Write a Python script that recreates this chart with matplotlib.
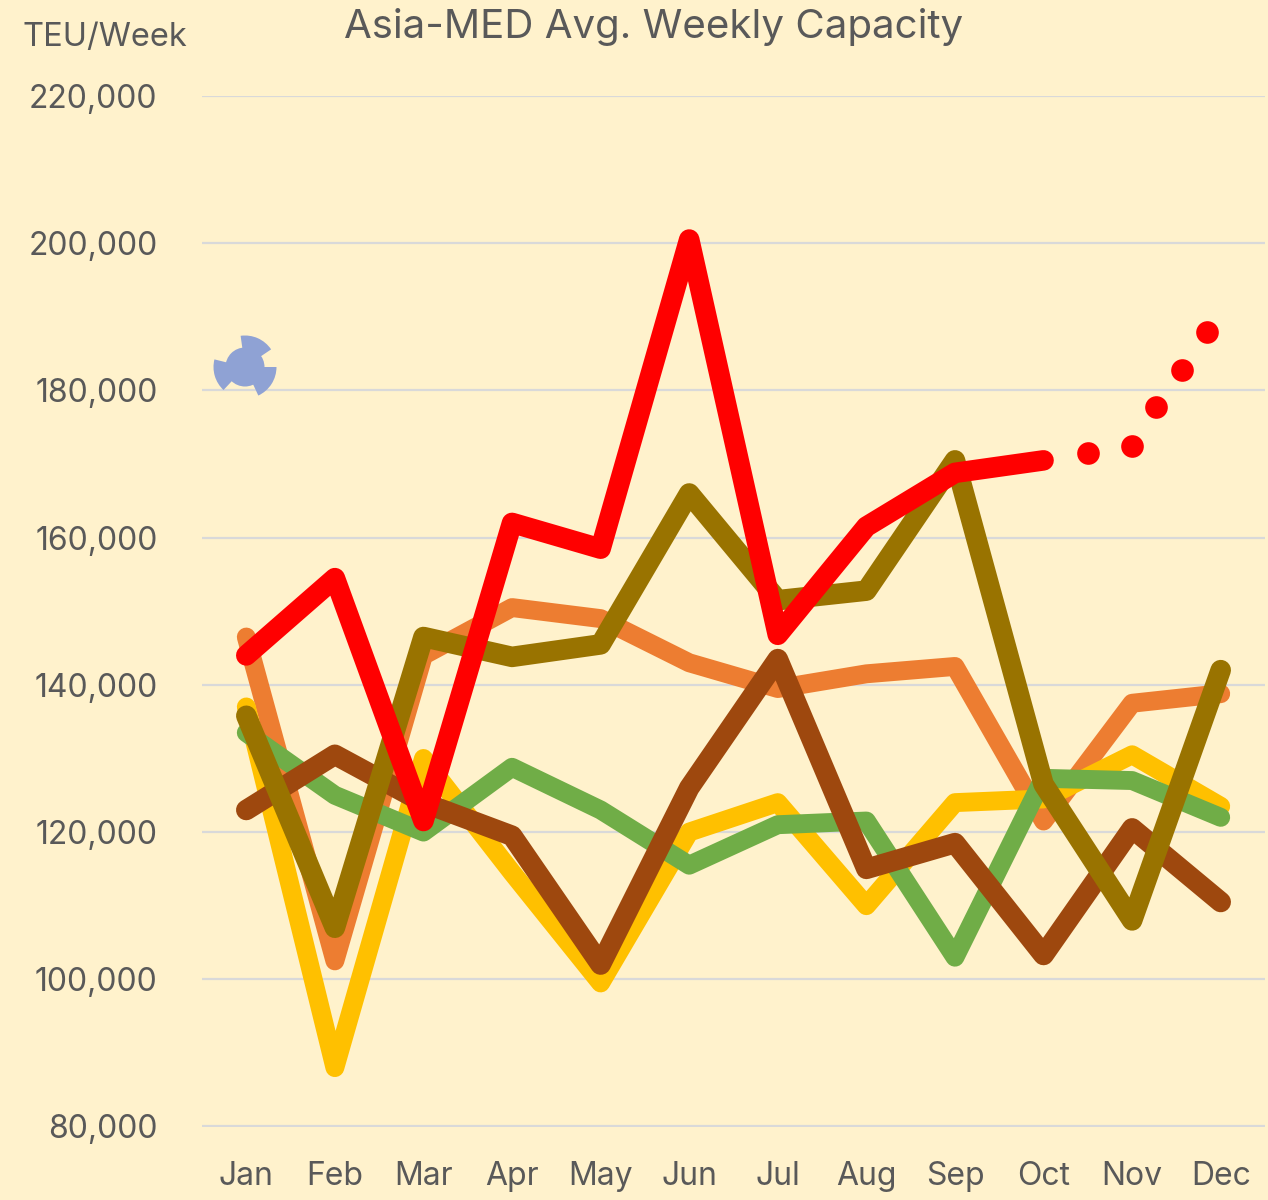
import matplotlib
matplotlib.use('Agg')
import matplotlib.pyplot as plt
from matplotlib.patches import Wedge, Circle
import numpy as np

months = ['Jan', 'Feb', 'Mar', 'Apr', 'May', 'Jun', 'Jul', 'Aug', 'Sep', 'Oct', 'Nov', 'Dec']
yticks = [80000, 100000, 120000, 140000, 160000, 180000, 200000, 220000]

orange = [146500, 102500, 144000, 150500, 149000, 143000, 139500, 141500, 142500, 121500, 137500, 138800]
yellow = [137000, 88000, 130000, 114500, 99500, 120000, 124000, 110000, 124000, 124500, 130500, 123500]
green = [133500, 125000, 120000, 128800, 123000, 115500, 121000, 121500, 103000, 127300, 127000, 122000]
brown = [123000, 130500, 124000, 119500, 102000, 126000, 143500, 115000, 118500, 103300, 120500, 110500]
olive = [135800, 107000, 146500, 143800, 145500, 166000, 151500, 152800, 170500, 126500, 108000, 142000]
red = [144000, 154500, 121500, 162000, 158500, 200500, 146800, 161500, 168800, 170500]
# Oct-Dec forecast dots, x is in month position
red_dots_x = [10.5, 11, 11.27, 11.56, 11.84]
red_dots = [171500, 172400, 177700, 182800, 188000]
# stray blue shape left of the lines, angles in degrees
blob_angles = [(34, 98), (166, 227), (295, 360)]

plt.rcParams['font.family'] = ['Inter', 'DejaVu Sans']
text_col = '#595959'
bg = '#FFF2CC'

fig = plt.figure(figsize=(12.68, 12.0), dpi=100, facecolor=bg)
ax = fig.add_axes([202/1268, 1-1126.5/1200, (1265-202)/1268, (1126.5-96)/1200], facecolor=bg)

x = np.arange(1, 13)
thin = 13.6
thick = 14.8
ax.plot(x, orange, color='#ED7D31', lw=thin, solid_capstyle='round', solid_joinstyle='round')
ax.plot(x, yellow, color='#FFC000', lw=thin, solid_capstyle='round', solid_joinstyle='round')
ax.plot(x, green, color='#70AD47', lw=thin, solid_capstyle='round', solid_joinstyle='round')
ax.plot(x, brown, color='#9E480E', lw=thick, solid_capstyle='round', solid_joinstyle='round')
ax.plot(x, olive, color='#997300', lw=thick, solid_capstyle='round', solid_joinstyle='round')
ax.plot(x[:10], red, color='#FF0000', lw=thick, solid_capstyle='round', solid_joinstyle='round')
ax.plot(red_dots_x, red_dots, 'o', color='#FF0000', ms=16.3, mew=0)

ax.set_xlim(0.5, 12.5)
ax.set_ylim(80000, 220000)
ax.set_yticks(yticks)
ax.set_yticklabels([f'{v:,}' for v in yticks], fontsize=23, color=text_col)
ax.set_xticks(x)
ax.set_xticklabels(months, fontsize=23, color=text_col)
ax.tick_params(length=0, axis='y', pad=32)
ax.tick_params(length=0, axis='x', pad=25)
ax.grid(axis='y', color='#D9D9D9', lw=1.6)
ax.set_axisbelow(True)
for s in ax.spines.values():
    s.set_visible(False)

# blue shape, 1 unit = 1 px
blob = fig.add_axes([205/1268, 1-407/1200, 80/1268, 80/1200])
blob.set_xlim(-40, 40)
blob.set_ylim(-40, 40)
blob.axis('off')
blob.add_patch(Circle((0, 0), 19.5, color='#8FA2D4', lw=0))
for a, b in blob_angles:
    blob.add_patch(Wedge((0, 0), 31.5, a, b, color='#8FA2D4', lw=0))

fig.text(654/1268, 1-27/1200, 'Asia-MED Avg. Weekly Capacity', fontsize=29, color=text_col, ha='center', va='center')
fig.text(105/1268, 1-37/1200, 'TEU/Week', fontsize=23.5, color=text_col, ha='center', va='center')

fig.savefig('out.png', dpi=100, facecolor=bg)
